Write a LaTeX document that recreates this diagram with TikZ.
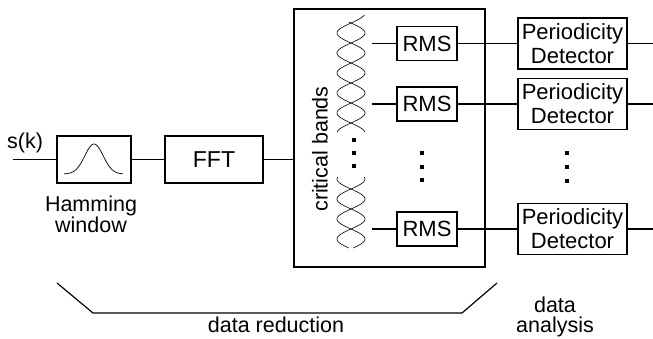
\documentclass[tikz,border=0pt]{standalone}
\usepackage{fontspec}
\setmainfont{Liberation Sans}
\begin{document}
\begin{tikzpicture}[x=1pt,y=-1pt,
  blk/.style={draw,line width=1.3pt,inner sep=0pt},
  wire/.style={line width=1.2pt},
  lbl/.style={inner sep=0pt,align=center,font=\fontsize{21.5}{20}\selectfont},
  sq/.style={fill,inner sep=0pt,minimum size=4.2pt},
  helix/.style={line width=0.6pt}
]
\useasboundingbox (0,0) rectangle (653,338);
% blocks
\node[blk,minimum width=74,minimum height=47] (ham) at (94,159.5) {};
\node[blk,minimum width=98,minimum height=47,font=\fontsize{23}{21}\selectfont] (fft) at (214,159.5) {FFT};
\node[blk,minimum width=191,minimum height=258] (big) at (389.5,138) {};
\foreach \i/\y in {1/43.5,2/104,3/229}{
  \node[blk,minimum width=60,minimum height=34,font=\fontsize{22}{21}\selectfont] (rms\i) at (427,\y) {RMS};
  \node[blk,minimum width=109,minimum height=51,align=center,font=\fontsize{22}{24}\selectfont] (pd\i) at (572.5,\y) {Periodicity\\Detector};
  \coordinate (h\i) at (372,\y);
  \coordinate (o\i) at (653,\y);
  \draw[wire] (h\i) -- (rms\i);
  \draw[wire] (rms\i) -- (pd\i);
  \draw[wire] (pd\i) -- (o\i);
}
% hamming bell
\draw[line width=0.7pt] plot[domain=64:123,samples=60,smooth] (\x,{174-30*exp(-((\x-94)/13)^2)});
% wires
\coordinate (in) at (13,159.5);
\draw[wire] (in) -- (ham);
\draw[wire] (ham) -- (fft);
\draw[wire] (fft) -- (fft -| big.west);
% helices
\draw[helix] plot[domain=15:132,samples=120,smooth] ({351+14*sin(9*(\x-43))},\x);
\draw[helix] plot[domain=22:132,samples=120,smooth] ({351-14*sin(9*(\x-43))},\x);
\draw[helix] plot[domain=177:248,samples=80,smooth] ({351+14*sin(9*(\x-229))},\x);
\draw[helix] plot[domain=177:248,samples=80,smooth] ({351-14*sin(9*(\x-229))},\x);
% dots
\foreach \y in {140,153,166} \node[sq] (hd\y) at (354,\y) {};
\foreach \y in {153,167,180} \node[sq] (rd\y) at (422,\y) {};
\foreach \y in {153,167,181} \node[sq] (pdd\y) at (567,\y) {};
% labels
\node[lbl] (sk) at (25,143) {s(k)};
\node[lbl] (hw) at (91,214) {Hamming\\window};
\node[lbl,rotate=90] (cb) at (320,149) {critical bands};
\node[lbl] (dr) at (276,325) {data reduction};
\node[lbl] (da) at (555,317) {data\\analysis};
% bracket
\coordinate (b1) at (57,283);
\coordinate (b2) at (93,313);
\coordinate (b3) at (462,313);
\coordinate (b4) at (497,283);
\draw[wire] (b1) -- (b2) -- (b3) -- (b4);
\end{tikzpicture}
\end{document}
